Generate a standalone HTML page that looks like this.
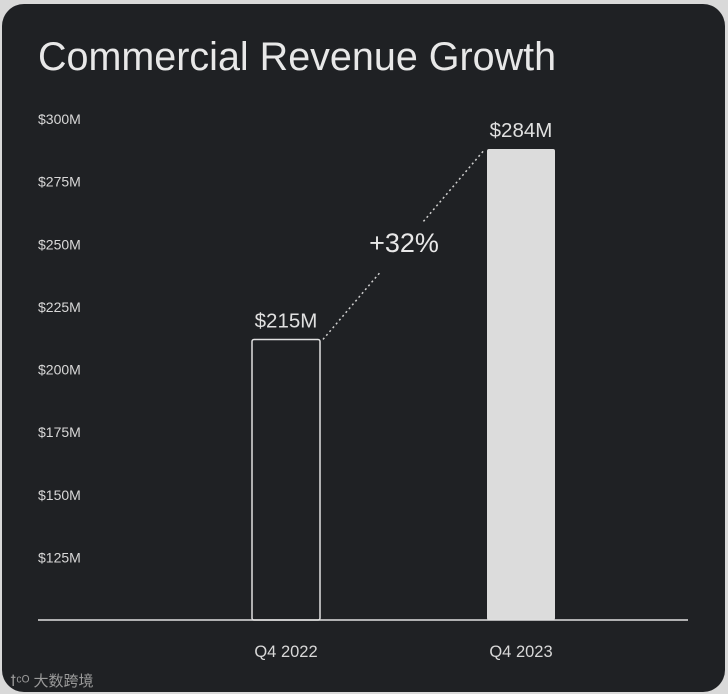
<!DOCTYPE html>
<html><head><meta charset="utf-8"><style>
html,body{margin:0;padding:0;background:#d9d9d9;width:728px;height:694px;overflow:hidden}
svg{display:block;font-family:"Liberation Sans","Noto Sans CJK SC",sans-serif}
</style></head><body>
<svg id="chart" width="728" height="694">
<rect x="2" y="4" width="723" height="688" rx="22" fill="#1f2124"/>
<text x="38" y="70" font-size="39.5" fill="#e8e8e8">Commercial Revenue Growth</text>
<g id="yaxis"></g><g id="bars"></g>
<line x1="38" y1="620" x2="688" y2="620" stroke="#e0e0e0" stroke-width="1.5"/>
<text x="10" y="686" font-size="15" fill="#9a9a9a">ꝉᶜᴼ 大数跨境</text>
</svg>
<script>
const categories=["Q4 2022","Q4 2023"];
const values=[212,288];
const valueLabels=["$215M","$284M"];
const growthLabel="+32%";
const yTicks=[125,150,175,200,225,250,275,300];
const NS="http://www.w3.org/2000/svg";
const y0=620,yMin=100,pxPer=(620-119)/200;
const y=v=>y0-(v-yMin)*pxPer;
const xc=[286,521],bw=68;
function mk(tag,attrs,parent,text){const e=document.createElementNS(NS,tag);for(const k in attrs)e.setAttribute(k,attrs[k]);if(text!==undefined)e.textContent=text;parent.appendChild(e);return e;}
const ya=document.getElementById('yaxis');
yTicks.forEach(t=>{const e=mk('text',{x:38,y:y(t)+5,'font-size':14,fill:'#d8d8d8'},ya,'$'+t+'M');

});
const bg=document.getElementById('bars');
values.forEach((v,i)=>{
 const top=y(v);
 const r=mk('rect',{x:xc[i]-bw/2,y:top,width:bw,height:y0-top,rx:2,fill:i==0?'none':'#dcdcdc',stroke:i==0?'#e0e0e0':'none','stroke-width':1.5},bg);
 
 
 const l=mk('text',{x:xc[i],y:top-12,'font-size':20.5,fill:'#e0e0e0','text-anchor':'middle'},bg,valueLabels[i]);
 
 
 const c=mk('text',{x:xc[i],y:657,'font-size':16.5,fill:'#d8d8d8','text-anchor':'middle'},bg,categories[i]);
 
 
});
const x1=xc[0]+bw/2+3,y1=y(values[0]),x2=xc[1]-bw/2-2,y2=y(values[1]);
const f1=0.35,f2=0.62;
[[0,f1],[f2,1]].forEach(([a,b])=>{const ln=mk('line',{x1:x1+(x2-x1)*a,y1:y1+(y2-y1)*a,x2:x1+(x2-x1)*b,y2:y1+(y2-y1)*b,stroke:'#d0d0d0','stroke-width':1.5,'stroke-dasharray':'2 3'},bg);

});
const g=mk('text',{x:404,y:252,'font-size':27,fill:'#e8e8e8','text-anchor':'middle'},bg,growthLabel);


</script>
</body></html>
